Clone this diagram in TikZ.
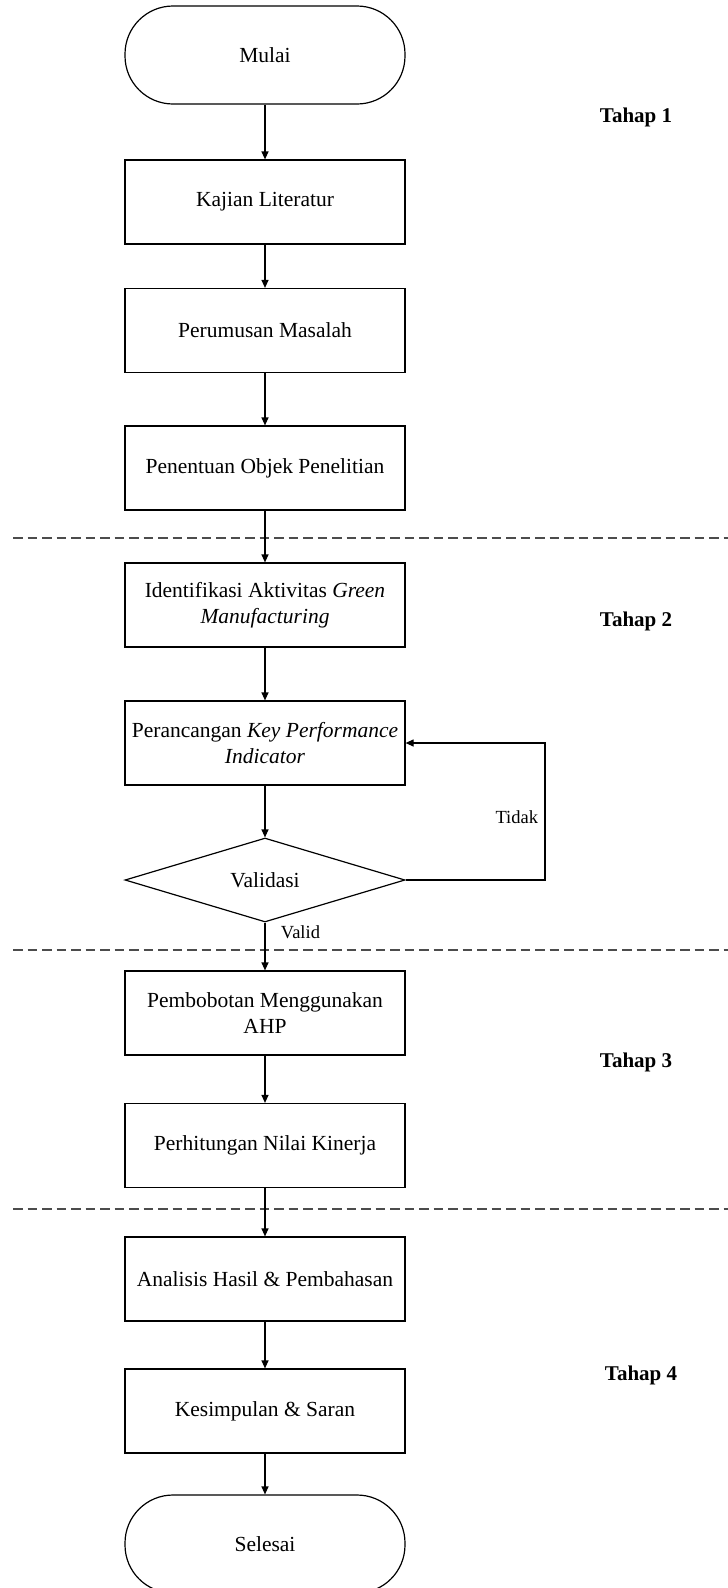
\documentclass[tikz,border=0pt]{standalone}
\usepackage{fontspec}
\setmainfont{Liberation Serif}
\usetikzlibrary{arrows.meta,shapes.geometric}

\tikzset{
	proses/.style={draw, rectangle, minimum width=280pt, minimum height=84pt, align=center, inner sep=2pt},
	terminal/.style={draw, rectangle, rounded corners=48pt, minimum width=280pt, minimum height=98pt},
	keputusan/.style={draw, diamond, shape aspect=3.3, minimum width=280pt, minimum height=84pt, inner sep=0pt},
	tahap/.style={font=\fontsize{21}{25}\selectfont\bfseries},
	ket/.style={font=\fontsize{18.5}{22}\selectfont},
	batas/.style={dash pattern=on 9.5pt off 5pt, line width=1.1pt, black!70}
}

\begin{document}
\begin{tikzpicture}[x=1pt, y=-1pt, line width=1.2pt, >={Triangle[length=8pt,width=7pt]}, font=\fontsize{21.5}{26}\selectfont]
	\useasboundingbox (0,0) rectangle (728,1588);
	\node[terminal] (mulai) at (265,55) {Mulai};
	\node[proses] (kajian) at (265,202) {Kajian Literatur};
	\node[proses] (perumusan) at (265,330.5) {Perumusan Masalah};
	\node[proses] (penentuan) at (265,468) {Penentuan Objek Penelitian};
	\node[proses] (identifikasi) at (265,605) {Identifikasi Aktivitas \textit{Green}\\\textit{Manufacturing}};
	\node[proses] (kpi) at (265,743) {Perancangan \textit{Key Performance}\\\textit{Indicator}};
	\node[keputusan] (validasi) at (265,880) {Validasi};
	\node[proses] (pembobotan) at (265,1013) {Pembobotan Menggunakan\\AHP};
	\node[proses] (perhitungan) at (265,1145.5) {Perhitungan Nilai Kinerja};
	\node[proses] (analisis) at (265,1279) {Analisis Hasil \& Pembahasan};
	\node[proses] (kesimpulan) at (265,1411) {Kesimpulan \& Saran};
	\node[terminal] (selesai) at (265,1544) {Selesai};
	% tahap
	\node[tahap] (tahap1) at (636,117) {Tahap 1};
	\node[tahap] (tahap2) at (636,621) {Tahap 2};
	\node[tahap] (tahap3) at (636,1062) {Tahap 3};
	\node[tahap] (tahap4) at (641,1375) {Tahap 4};
	% batas tahap
	\draw[batas] (13,538)--(728,538);
	\draw[batas] (13,950)--(728,950);
	\draw[batas] (13,1209)--(728,1209);
	% alur
	\draw[->] (mulai)--(kajian);
	\draw[->] (kajian)--(perumusan);
	\draw[->] (perumusan)--(penentuan);
	\draw[->] (penentuan)--(identifikasi);
	\draw[->] (identifikasi)--(kpi);
	\draw[->] (kpi)--(validasi);
	\draw[->] (validasi.south)--node[ket, pos=0.2, right=12pt] (valid) {Valid} (pembobotan);
	\coordinate (belok) at (545,880);
	\draw[->] (validasi.east)--(belok) |- node[ket, pos=0.23, left=3pt] (tidak) {Tidak} (kpi.east);
	\draw[->] (pembobotan)--(perhitungan);
	\draw[->] (perhitungan)--(analisis);
	\draw[->] (analisis)--(kesimpulan);
	\draw[->] (kesimpulan)--(selesai);
\end{tikzpicture}
\end{document}
